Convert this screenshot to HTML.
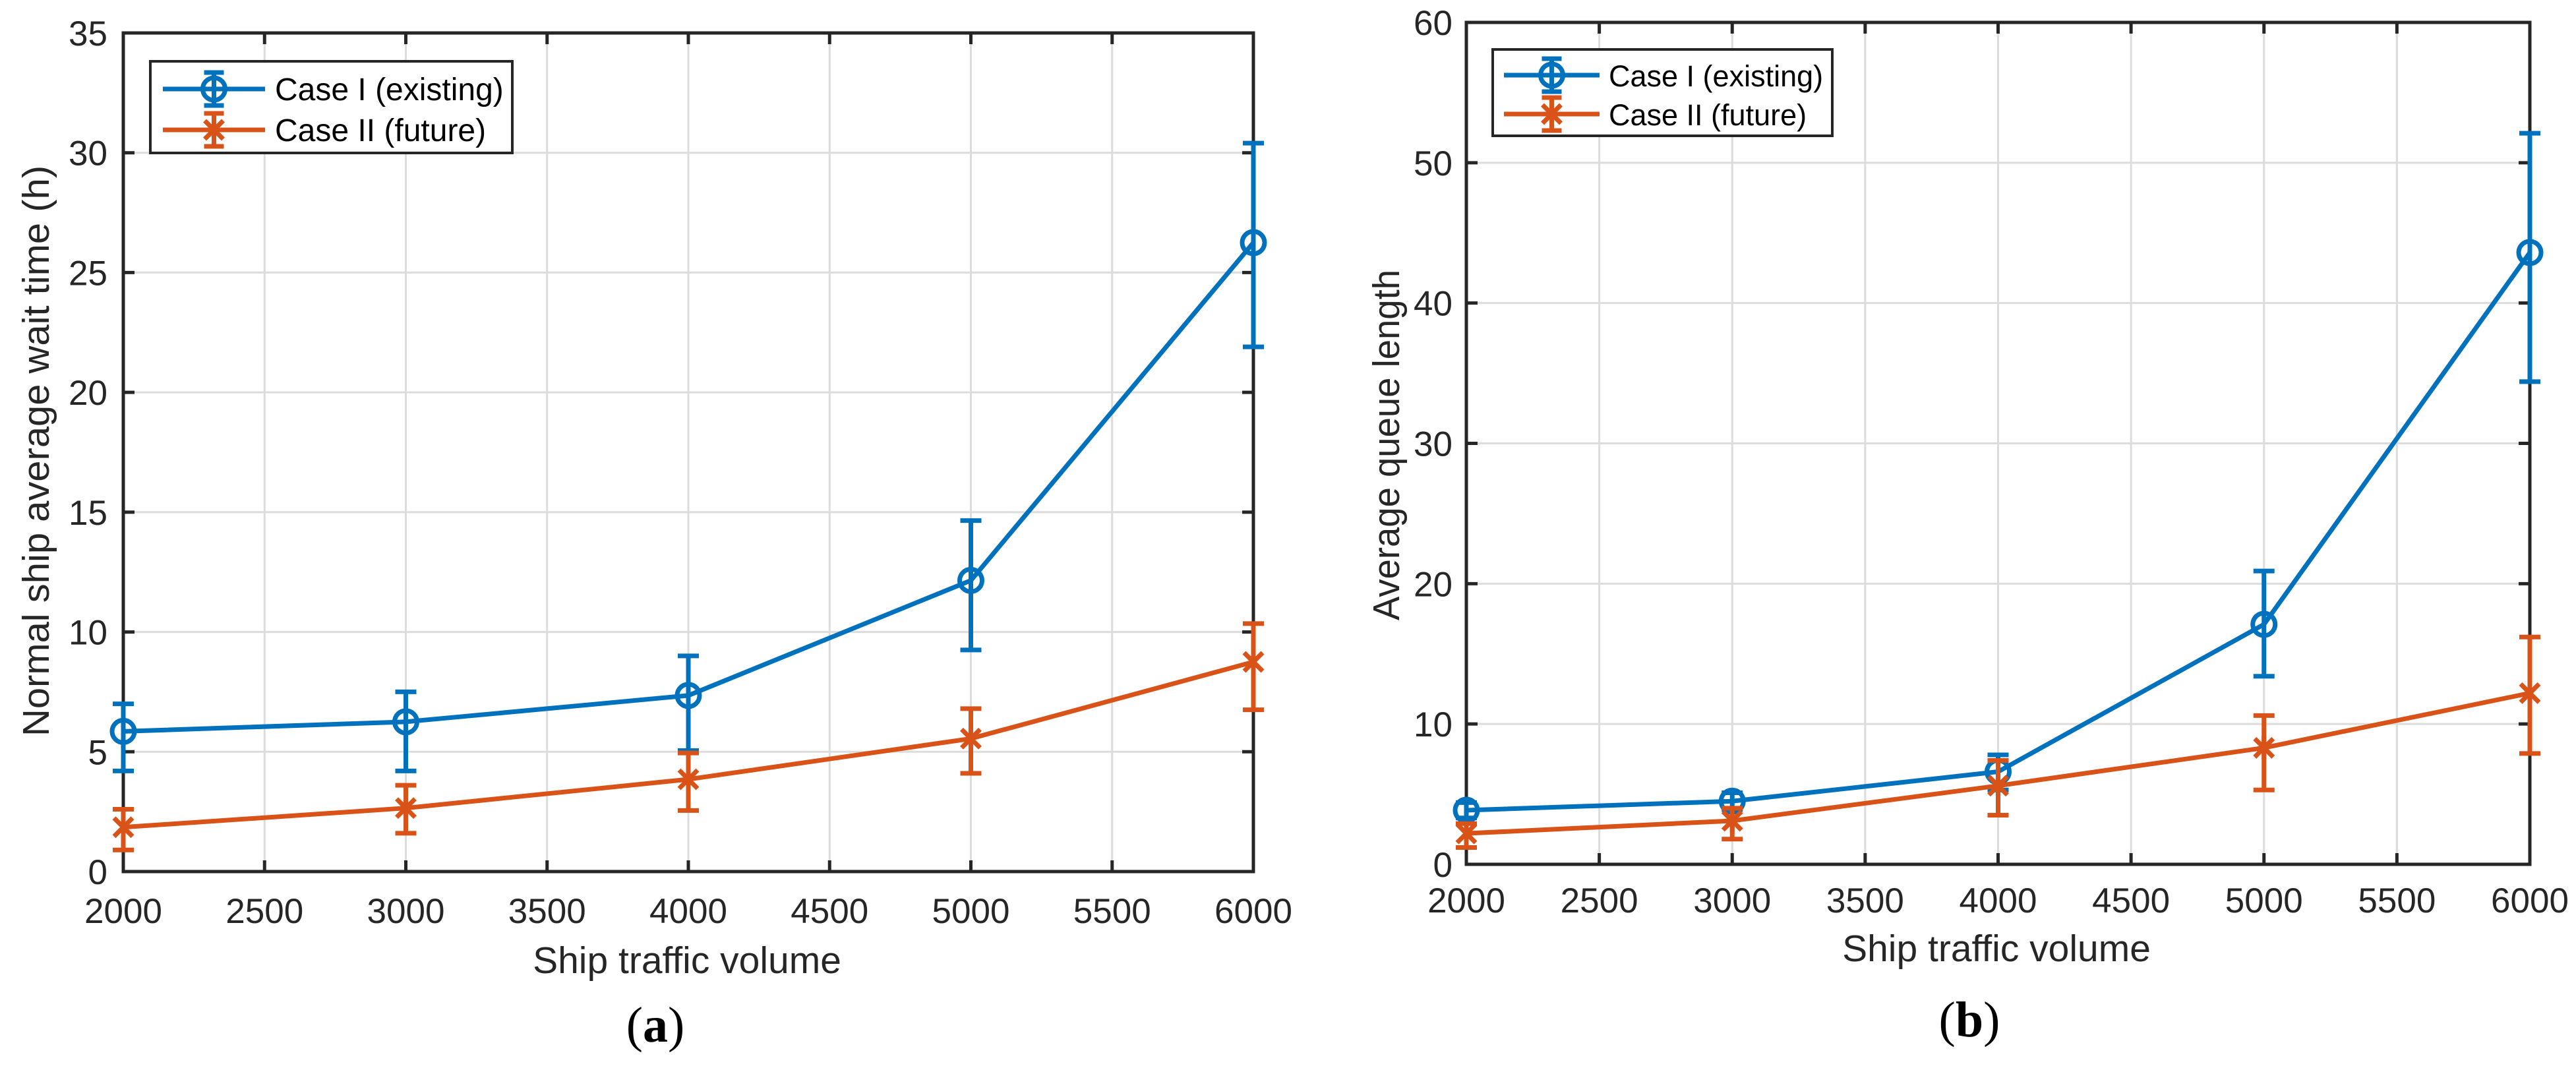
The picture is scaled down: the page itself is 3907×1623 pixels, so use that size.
<!DOCTYPE html>
<html><head><meta charset="utf-8"><style>
html,body{margin:0;padding:0;background:#fff;}
svg{display:block;}
</style></head><body>
<svg id="fig" width="3907" height="1623" viewBox="0 0 3907 1623" xmlns="http://www.w3.org/2000/svg" font-family="Liberation Sans, Arial, sans-serif">
<rect width="3907" height="1623" fill="#fff"/>
</svg>
<script>
// ---- data ----
const xCats = [2000, 3000, 4000, 5000, 6000];
const xTicks = [2000, 2500, 3000, 3500, 4000, 4500, 5000, 5500, 6000];
const aYTicks = [0, 5, 10, 15, 20, 25, 30, 35];
const aCase1 = [5.85, 6.25, 7.35, 12.15, 26.25];
const aCase1Lo = [4.2, 4.2, 5.05, 9.25, 21.9];
const aCase1Hi = [7.0, 7.5, 9.0, 14.65, 30.4];
const aCase2 = [1.85, 2.65, 3.85, 5.55, 8.75];
const aCase2Lo = [0.9, 1.6, 2.55, 4.1, 6.75];
const aCase2Hi = [2.6, 3.6, 4.95, 6.8, 10.35];
const bYTicks = [0, 10, 20, 30, 40, 50, 60];
const bCase1 = [3.85, 4.5, 6.6, 17.1, 43.6];
const bCase1Lo = [3.3, 3.9, 5.3, 13.4, 34.4];
const bCase1Hi = [4.4, 5.1, 7.8, 20.9, 52.1];
const bCase2 = [2.2, 3.1, 5.6, 8.3, 12.2];
const bCase2Lo = [1.2, 1.8, 3.5, 5.3, 7.9];
const bCase2Hi = [2.9, 4.0, 7.4, 10.6, 16.2];
const seriesNames = ["Case I (existing)", "Case II (future)"];

const NS = "http://www.w3.org/2000/svg";
const svg = document.getElementById("fig");
const BLUE = "#0072BD", ORANGE = "#D95319", AX = "#262626";
function mk(tag, attrs, parent) {
  const e = document.createElementNS(NS, tag);
  for (const k in attrs) e.setAttribute(k, attrs[k]);
  (parent || svg).appendChild(e);
  return e;
}

function panel(cfg) {
  const g = mk("g", {});
  
  
  const L = cfg.L, R = cfg.R, T = cfg.T, B = cfg.B;
  const ymax = cfg.yTicks[cfg.yTicks.length - 1];
  const xs = v => L + (v - 2000) / 4000 * (R - L);
  const ys = v => B - v / ymax * (B - T);
  xTicks.forEach(t => {
    if (t === 2000 || t === 6000) return;
    const l = mk("line", {x1: xs(t), x2: xs(t), y1: T, y2: B, stroke: "#dcdcdc", "stroke-width": 3}, g);
    
    
  });
  cfg.yTicks.forEach(t => {
    if (t === 0 || t === ymax) return;
    const l = mk("line", {x1: L, x2: R, y1: ys(t), y2: ys(t), stroke: "#dcdcdc", "stroke-width": 3}, g);
    
    
  });
  xTicks.forEach(t => {
    mk("line", {x1: xs(t), x2: xs(t), y1: B, y2: B - 17, stroke: AX, "stroke-width": 5}, g);
    mk("line", {x1: xs(t), x2: xs(t), y1: T, y2: T + 17, stroke: AX, "stroke-width": 5}, g);
    const tx = mk("text", {x: xs(t), y: cfg.xTickY, "font-size": 53, fill: AX, "text-anchor": "middle"}, g);
    tx.textContent = t;
    
    
  });
  cfg.yTicks.forEach(t => {
    mk("line", {x1: L, x2: L + 17, y1: ys(t), y2: ys(t), stroke: AX, "stroke-width": 5}, g);
    mk("line", {x1: R, x2: R - 17, y1: ys(t), y2: ys(t), stroke: AX, "stroke-width": 5}, g);
    const tx = mk("text", {x: cfg.yTickX, y: ys(t) + 19, "font-size": 53, fill: AX, "text-anchor": "end"}, g);
    tx.textContent = t;
    
    
  });
  const box = mk("rect", {x: L, y: T, width: R - L, height: B - T, fill: "none", stroke: AX, "stroke-width": 5}, g);
  
  
  const series = [
    {v: cfg.s1, lo: cfg.s1Lo, hi: cfg.s1Hi, c: BLUE, m: "o", n: "case-1"},
    {v: cfg.s2, lo: cfg.s2Lo, hi: cfg.s2Hi, c: ORANGE, m: "*", n: "case-2"}
  ];
  series.forEach(s => {
    const pts = s.v.map((v, i) => xs(xCats[i]) + "," + ys(v)).join(" ");
    const pl = mk("polyline", {points: pts, fill: "none", stroke: s.c, "stroke-width": 7}, g);
    
    
    s.v.forEach((v, i) => {
      const x = xs(xCats[i]);
      const eg = mk("g", {stroke: s.c, "stroke-width": 7, fill: "none"}, g);
      
      
      mk("line", {x1: x, x2: x, y1: ys(s.lo[i]), y2: ys(s.hi[i])}, eg);
      mk("line", {x1: x - 16, x2: x + 16, y1: ys(s.lo[i]), y2: ys(s.lo[i])}, eg);
      mk("line", {x1: x - 16, x2: x + 16, y1: ys(s.hi[i]), y2: ys(s.hi[i])}, eg);
      drawMarker(eg, s.m, x, ys(v), s.n);
    });
  });
  const lg = mk("g", {}, g);
  
  
  const Lb = cfg.leg;
  mk("rect", {x: Lb.x, y: Lb.y, width: Lb.w, height: Lb.h, fill: "#fff", stroke: AX, "stroke-width": 4}, lg);
  [[BLUE, "o", Lb.r1], [ORANGE, "*", Lb.r2]].forEach((r, i) => {
    const eg = mk("g", {stroke: r[0], "stroke-width": 7, fill: "none"}, lg);
    
    
    const cx = (Lb.l1 + Lb.l2) / 2, y = r[2];
    mk("line", {x1: Lb.l1, x2: Lb.l2, y1: y, y2: y}, eg);
    mk("line", {x1: cx, x2: cx, y1: y - 25, y2: y + 25}, eg);
    mk("line", {x1: cx - 15, x2: cx + 15, y1: y - 25, y2: y - 25}, eg);
    mk("line", {x1: cx - 15, x2: cx + 15, y1: y + 25, y2: y + 25}, eg);
    drawMarker(eg, r[1], cx, y, 'legend');
    const t = mk("text", {x: Lb.tx, y: y + 17, "font-size": Lb.fs, fill: "#000", stroke: "none"}, lg);
    t.textContent = seriesNames[i];
    
    
  });
  const xl = mk("text", {x: cfg.xLab[0], y: cfg.xLab[1], "font-size": 57, fill: AX, "text-anchor": "middle"}, g);
  xl.textContent = "Ship traffic volume";
  
  
  const yl = mk("text", {x: 0, y: 0, "font-size": 57, fill: AX, "text-anchor": "middle",
    transform: "translate(" + cfg.yLab[0] + "," + cfg.yLab[1] + ") rotate(-90)", textLength: cfg.yLab[2], lengthAdjust: "spacingAndGlyphs"}, g);
  yl.textContent = cfg.yTitle;
  
  
  const cap = mk("text", {x: cfg.cap[0], y: cfg.cap[1], "font-size": 76, fill: "#000", "text-anchor": "middle", "font-family": "Liberation Serif, serif"}, g);
  cap.innerHTML = '(<tspan font-weight="bold">' + cfg.capL + '</tspan>)';
  
  
}

function drawMarker(parent, m, x, y, n) {
  if (m === "o") {
    const c = mk("circle", {cx: x, cy: y, r: 17, fill: "none"}, parent);
    
    
  } else {
    const d = 14;
    mk("line", {x1: x - d, x2: x + d, y1: y - d, y2: y + d}, parent);
    mk("line", {x1: x - d, x2: x + d, y1: y + d, y2: y - d}, parent);
    mk("line", {x1: x, x2: x, y1: y - d - 4, y2: y + d + 4}, parent);
  }
}

panel({name: "chart-a", L: 187, R: 1901, T: 50, B: 1322, yTicks: aYTicks,
  s1: aCase1, s1Lo: aCase1Lo, s1Hi: aCase1Hi, s2: aCase2, s2Lo: aCase2Lo, s2Hi: aCase2Hi,
  xTickY: 1400, yTickX: 163,
  leg: {x: 228, y: 93, w: 549, h: 139, l1: 247, l2: 402, tx: 417, r1: 135, r2: 197, fs: 48},
  xLab: [1042, 1476], yLab: [74, 684, 866], yTitle: "Normal ship average wait time (h)",
  cap: [994, 1580], capL: "a"});
panel({name: "chart-b", L: 2224, R: 3837, T: 34, B: 1311, yTicks: bYTicks,
  s1: bCase1, s1Lo: bCase1Lo, s1Hi: bCase1Hi, s2: bCase2, s2Lo: bCase2Lo, s2Hi: bCase2Hi,
  xTickY: 1384, yTickX: 2203,
  leg: {x: 2264, y: 75, w: 515, h: 131, l1: 2281, l2: 2426, tx: 2440, r1: 114, r2: 173, fs: 45},
  xLab: [3028, 1458], yLab: [2122, 675, 532], yTitle: "Average queue length",
  cap: [2987, 1572], capL: "b"});
</script>
</body></html>
